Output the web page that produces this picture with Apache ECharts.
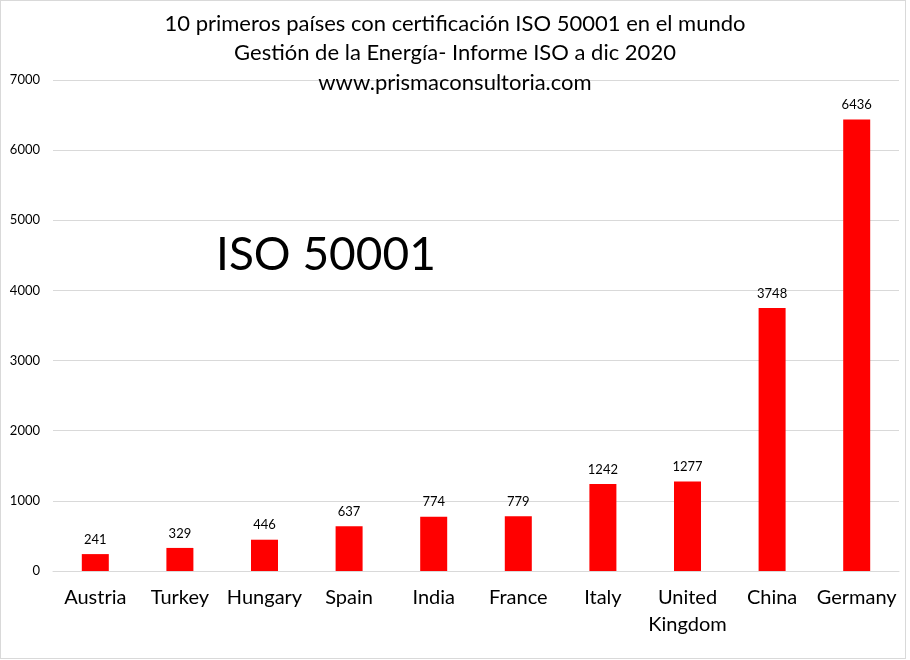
<!DOCTYPE html>
<html lang="es">
<head>
	<meta charset="UTF-8">
	<title>ISO 50001</title>
	<style>
		html, body { margin: 0; padding: 0; background: #fff; }
		#chart { position: absolute; left: 0; top: 0; width: 910px; height: 660px; }
		#frame { position: absolute; left: 0; top: 0; width: 904px; height: 657px; border: 1px solid #d9d9d9; pointer-events: none; }
	</style>
</head>
<body>
<div id="chart"></div>
<div id="frame"></div>
<script src="https://cdn.jsdelivr.net/npm/echarts@6/dist/echarts.min.js"></script>
<script>
	// datos
	var paises = ['Austria', 'Turkey', 'Hungary', 'Spain', 'India', 'France', 'Italy', 'United\nKingdom', 'China', 'Germany'];
	var certificados = [241, 329, 446, 637, 774, 779, 1242, 1277, 3748, 6436];
	var yMax = 7000;
	var yPaso = 1000;

	var fuente = 'Lato';
	var myChart = echarts.init(document.getElementById('chart'));

	var option = {
		animation: false,
		title: {
			text: '10 primeros países con certificación ISO 50001 en el mundo\nGestión de la Energía- Informe ISO a dic 2020\nwww.prismaconsultoria.com',
			left: 'center',
			top: 4,
			textStyle: {
				fontFamily: fuente,
				fontSize: 22,
				fontWeight: 'normal',
				color: '#000',
				lineHeight: 29.5
			}
		},
		graphic: [{
			type: 'text',
			left: 216,
			top: 232,
			style: {
				text: 'ISO 50001',
				fontFamily: fuente,
				fontSize: 46,
				fill: '#000'
			}
		}],
		grid: {
			left: 53,
			right: 11,
			top: 80,
			bottom: 89
		},
		xAxis: {
			type: 'category',
			data: paises,
			axisLine: { lineStyle: { color: '#d9d9d9' } },
			axisTick: { show: false },
			axisLabel: {
				interval: 0,
				margin: 13,
				fontFamily: fuente,
				fontSize: 20,
				color: '#000',
				lineHeight: 27
			}
		},
		yAxis: {
			type: 'value',
			min: 0,
			max: yMax,
			interval: yPaso,
			axisLine: { show: false },
			axisTick: { show: false },
			splitLine: { lineStyle: { color: '#d9d9d9' } },
			axisLabel: {
				margin: 13,
				fontFamily: fuente,
				fontSize: 13,
				color: '#000',
				formatter: function (v) { return String(v); }
			}
		},
		series: [{
			name: 'ISO 50001',
			type: 'bar',
			barWidth: 27,
			itemStyle: { color: '#ff0000' },
			label: {
				show: true,
				position: 'top',
				distance: 8,
				fontFamily: fuente,
				fontSize: 13,
				color: '#000'
			},
			data: certificados
		}]
	};

	myChart.setOption(option);
</script>
</body>
</html>
